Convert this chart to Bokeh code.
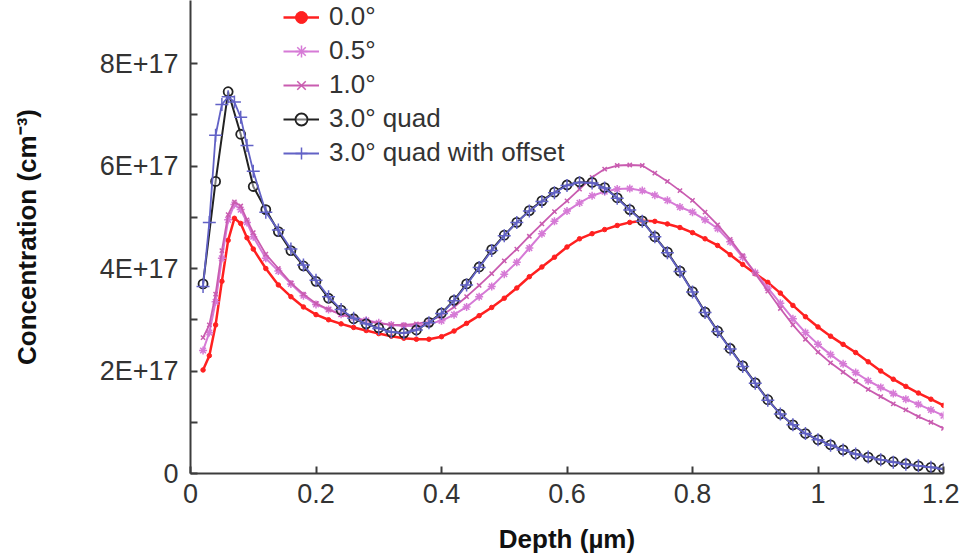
from bokeh.plotting import figure
from bokeh.models import FixedTicker, CustomJSTickFormatter, Range1d
from bokeh.embed import file_html
from bokeh.resources import INLINE

SCALE = 1e17  # values below are in units of 1E+17 cm^-3

DEPTH = [0.02, 0.03, 0.04, 0.05, 0.06, 0.07, 0.08, 0.09, 0.10,
         0.12, 0.14, 0.16, 0.18, 0.20, 0.22, 0.24, 0.26, 0.28, 0.30,
         0.32, 0.34, 0.36, 0.38, 0.40, 0.42, 0.44, 0.46, 0.48, 0.50,
         0.52, 0.54, 0.56, 0.58, 0.60, 0.62, 0.64, 0.66, 0.68, 0.70,
         0.72, 0.74, 0.76, 0.78, 0.80, 0.82, 0.84, 0.86, 0.88, 0.90,
         0.92, 0.94, 0.96, 0.98, 1.00, 1.02, 1.04, 1.06, 1.08, 1.10,
         1.12, 1.14, 1.16, 1.18, 1.20]

TILT_00 = [2.02, 2.30, 2.90, 3.75, 4.55, 4.98, 4.88, 4.60, 4.38,
           4.00, 3.68, 3.45, 3.25, 3.10, 3.00, 2.92, 2.85, 2.79, 2.73,
           2.68, 2.64, 2.62, 2.62, 2.67, 2.78, 2.93, 3.08, 3.24, 3.42,
           3.62, 3.84, 4.03, 4.22, 4.42, 4.58, 4.68, 4.76, 4.84, 4.90,
           4.93, 4.92, 4.87, 4.80, 4.70, 4.58, 4.45, 4.27, 4.08, 3.90,
           3.73, 3.52, 3.28, 3.06, 2.86, 2.68, 2.52, 2.36, 2.18, 2.00,
           1.84, 1.70, 1.57, 1.45, 1.33]

TILT_05 = [2.40, 2.75, 3.35, 4.20, 4.95, 5.25, 5.15, 4.90, 4.62,
           4.20, 3.95, 3.70, 3.47, 3.30, 3.20, 3.11, 3.04, 2.99, 2.94,
           2.90, 2.88, 2.88, 2.92, 2.98, 3.10, 3.25, 3.45, 3.65, 3.89,
           4.12, 4.40, 4.68, 4.92, 5.12, 5.28, 5.42, 5.50, 5.55, 5.56,
           5.52, 5.43, 5.33, 5.20, 5.10, 4.95, 4.78, 4.52, 4.22, 3.92,
           3.62, 3.32, 3.02, 2.75, 2.52, 2.32, 2.14, 1.97, 1.81, 1.68,
           1.56, 1.45, 1.35, 1.24, 1.13]

TILT_10 = [2.65, 2.90, 3.50, 4.35, 5.05, 5.30, 5.22, 4.95, 4.70,
           4.28, 4.00, 3.72, 3.50, 3.32, 3.20, 3.10, 3.03, 2.98, 2.93,
           2.90, 2.90, 2.92, 2.97, 3.08, 3.25, 3.45, 3.67, 3.90, 4.15,
           4.38, 4.63, 4.87, 5.11, 5.32, 5.55, 5.78, 5.94, 6.01, 6.02,
           6.01, 5.86, 5.70, 5.52, 5.33, 5.10, 4.85, 4.57, 4.25, 3.90,
           3.56, 3.22, 2.90, 2.62, 2.37, 2.16, 1.98, 1.80, 1.64, 1.50,
           1.36, 1.24, 1.11, 1.00, 0.88]

QUAD_DEPTH = [0.02, 0.04, 0.06, 0.08, 0.10, 0.12, 0.14, 0.16, 0.18, 0.20,
              0.22, 0.24, 0.26, 0.28, 0.30, 0.32, 0.34, 0.36, 0.38, 0.40,
              0.42, 0.44, 0.46, 0.48, 0.50, 0.52, 0.54, 0.56, 0.58, 0.60,
              0.62, 0.64, 0.66, 0.68, 0.70, 0.72, 0.74, 0.76, 0.78, 0.80,
              0.82, 0.84, 0.86, 0.88, 0.90, 0.92, 0.94, 0.96, 0.98, 1.00,
              1.02, 1.04, 1.06, 1.08, 1.10, 1.12, 1.14, 1.16, 1.18, 1.20]

QUAD_30 = [3.70, 5.70, 7.45, 6.62, 5.60, 5.15, 4.72, 4.35, 4.05, 3.75,
           3.42, 3.19, 3.02, 2.92, 2.84, 2.76, 2.74, 2.80, 2.95, 3.13,
           3.38, 3.70, 4.03, 4.37, 4.65, 4.90, 5.13, 5.32, 5.49, 5.63,
           5.69, 5.68, 5.58, 5.38, 5.15, 4.93, 4.62, 4.32, 3.95, 3.55,
           3.15, 2.78, 2.44, 2.10, 1.77, 1.44, 1.16, 0.95, 0.78, 0.66,
           0.56, 0.46, 0.38, 0.32, 0.27, 0.23, 0.19, 0.15, 0.12, 0.09]

QUAD_30_OFFSET = [3.65, 4.90, 6.60, 7.20, 7.35, 7.25, 6.95, 6.40, 5.90,
                  5.10, 4.75, 4.38, 4.07, 3.77, 3.45, 3.20, 3.03, 2.92, 2.83,
                  2.76, 2.74, 2.80, 2.94, 3.12, 3.37, 3.68, 4.02, 4.35, 4.64,
                  4.90, 5.12, 5.31, 5.48, 5.62, 5.68, 5.67, 5.57, 5.37, 5.14,
                  4.92, 4.62, 4.31, 3.94, 3.54, 3.14, 2.77, 2.43, 2.09, 1.76,
                  1.43, 1.16, 0.95, 0.78, 0.66, 0.55, 0.46, 0.38, 0.32, 0.27,
                  0.22, 0.18, 0.15, 0.12, 0.09]

LABELS = ["0.0\u00b0", "0.5\u00b0", "1.0\u00b0", "3.0\u00b0 quad", "3.0\u00b0 quad with offset"]
X_TICKS = [0, 0.2, 0.4, 0.6, 0.8, 1.0, 1.2]
Y_TICKS = [0, 2, 4, 6, 8]
Y_MINOR = [1, 3, 5, 7]
Y_TOP = 9.23

FONT = "Liberation Sans"
AXIS_COL = "#3c3c3c"


def sc(vals):
    return [v * SCALE for v in vals]


p = figure(width=959, height=556, output_backend="svg", toolbar_location=None,
           x_range=Range1d(0, 1.2), y_range=Range1d(0, Y_TOP * SCALE),
           min_border_left=190, min_border_right=16, min_border_top=0,
           min_border_bottom=77)
p.outline_line_color = None
p.xgrid.visible = False
p.ygrid.visible = False
p.background_fill_color = "white"
p.border_fill_color = "white"

# series
p.line(DEPTH, sc(TILT_00), color="#ff2020", line_width=2.5, legend_label=LABELS[0])
p.scatter(DEPTH, sc(TILT_00), marker="circle", size=4.5, color="#ff2020", legend_label=LABELS[0])

p.line(DEPTH, sc(TILT_05), color="#d67ad6", line_width=2, legend_label=LABELS[1])
p.scatter(DEPTH, sc(TILT_05), marker="asterisk", size=8, line_color="#d67ad6", line_width=1.5,
          legend_label=LABELS[1])

p.line(DEPTH, sc(TILT_10), color="#c95cb0", line_width=1.8, legend_label=LABELS[2])
p.scatter(DEPTH, sc(TILT_10), marker="x", size=6, line_color="#c95cb0", line_width=1.5,
          legend_label=LABELS[2])

p.line(QUAD_DEPTH, sc(QUAD_30), color="#222222", line_width=2, legend_label=LABELS[3])
p.scatter(QUAD_DEPTH, sc(QUAD_30), marker="circle", size=9, line_color="#222222",
          fill_color="white", fill_alpha=0.4, line_width=1.8, legend_label=LABELS[3])

p.line(DEPTH, sc(QUAD_30_OFFSET), color="#6262c6", line_width=1.8, legend_label=LABELS[4])
p.scatter(DEPTH, sc(QUAD_30_OFFSET), marker="cross", size=13, line_color="#6262c6",
          line_width=1.5, legend_label=LABELS[4])

# axes
xa = p.xaxis[0]
ya = p.yaxis[0]
xa.ticker = FixedTicker(ticks=X_TICKS)
xa.formatter = CustomJSTickFormatter(code="return tick.toFixed(1).replace(/\\.0$/, '');")
ya.ticker = FixedTicker(ticks=[t * SCALE for t in Y_TICKS], minor_ticks=[t * SCALE for t in Y_MINOR])
ya.formatter = CustomJSTickFormatter(code="var v = Math.round(tick / 1e17); return v == 0 ? '0' : v + 'E+17';")

for ax in (xa, ya):
    ax.axis_line_color = AXIS_COL
    ax.axis_line_width = 2
    ax.major_tick_line_color = AXIS_COL
    ax.major_tick_line_width = 2
    ax.major_tick_in = 7
    ax.major_tick_out = 0
    ax.minor_tick_line_color = AXIS_COL
    ax.minor_tick_line_width = 2
    ax.minor_tick_in = 7
    ax.minor_tick_out = 0
    ax.major_label_text_font = FONT
    ax.major_label_text_font_size = "27px"
    ax.major_label_text_color = "#333333"
    ax.axis_label_text_font = FONT
    ax.axis_label_text_font_style = "bold"
    ax.axis_label_text_font_size = "26px"
    ax.axis_label_text_color = "#111111"

xa.minor_tick_line_color = None
xa.major_label_standoff = 10
ya.major_label_standoff = 12
xa.axis_label = "Depth (\u00b5m)"
ya.axis_label = "Concentration (cm\u207b\u00b3)"
xa.axis_label_standoff = 18
ya.axis_label_standoff = 55

# legend
lg = p.legend[0]
lg.location = (93, 305)
lg.background_fill_alpha = 0
lg.border_line_color = None
lg.padding = 0
lg.margin = 0
lg.spacing = 3
lg.glyph_width = 36
lg.glyph_height = 30
lg.label_height = 30
lg.label_standoff = 10
lg.label_text_font = FONT
lg.label_text_font_size = "26px"
lg.label_text_color = "#333333"

open("out.html", "w").write(file_html(p, INLINE))
